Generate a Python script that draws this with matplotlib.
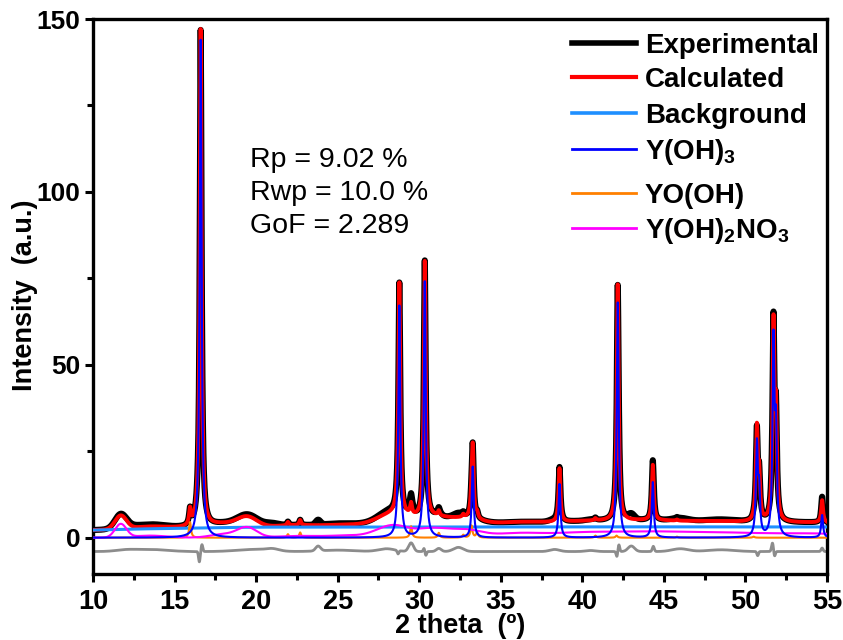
import numpy as np
import matplotlib
matplotlib.use("Agg")
import matplotlib.pyplot as plt
from matplotlib.ticker import MultipleLocator
from matplotlib.lines import Line2D

plt.rcParams['font.family'] = ['Liberation Sans', 'DejaVu Sans']
plt.rcParams['mathtext.fontset'] = 'custom'
plt.rcParams['mathtext.rm'] = 'Liberation Sans:bold'
plt.rcParams['mathtext.bf'] = 'Liberation Sans:bold'
plt.rcParams['mathtext.it'] = 'Liberation Sans:bold'

# ---------------- data ----------------
two_theta_range = (10.0, 55.0)
intensity_range = (-10.5, 150.0)

# background points
bg_pos = [10.0, 12.5, 15.0, 17.5, 20.0, 30.0, 40.0, 55.0]
bg_val = [2.2, 2.5, 2.7, 2.9, 3.05, 3.1, 3.15, 3.1]

# Y(OH)3 reflections
yoh3_pos = [16.60, 28.78, 30.34, 33.28, 38.60, 42.17, 44.32, 50.70, 50.84, 51.72, 51.87, 54.70]
yoh3_hgt = [144.0, 67.0, 74.0, 20.5, 15.5, 68.0, 16.0, 26.0, 12.0, 55.0, 28.0, 6.5]
yoh3_hw = [0.07, 0.07, 0.07, 0.07, 0.07, 0.07, 0.07, 0.07, 0.07, 0.07, 0.07, 0.07]

# YO(OH) reflections
yooh_pos = [15.95, 21.95, 22.70, 29.50, 31.20, 32.70, 33.20, 33.55, 40.80, 42.10, 45.80, 50.50]
yooh_hgt = [4.5, 1.0, 1.5, 3.3, 1.4, 0.8, 3.5, 1.5, 0.6, 0.6, 0.3, 0.3]
yooh_hw = [0.07, 0.07, 0.07, 0.07, 0.07, 0.07, 0.07, 0.07, 0.07, 0.07, 0.07, 0.07]

# Y(OH)2NO3 broad reflections
yno3_pos = [11.70, 13.5, 18.0, 19.45, 22.5, 25.5, 28.4, 30.8, 32.8, 36.0, 40.0, 44.0, 48.0, 52.0, 55.0]
yno3_hgt = [3.9, 0.6, 1.0, 2.9, 0.5, 0.6, 3.6, 2.4, 2.2, 1.2, 1.4, 1.5, 1.3, 1.0, 0.8]
yno3_sd = [0.35, 1.0, 0.8, 0.6, 1.2, 1.2, 1.0, 0.9, 1.0, 1.5, 2.0, 2.0, 2.0, 2.0, 1.5]

# misfit between experiment and model (experimental = calculated + misfit)
mis_pos = [12.0, 13.5, 16.52, 16.68, 19.8, 21.0, 23.8, 25.0, 28.0, 28.70, 29.50, 30.30, 30.40,
           31.20, 32.40, 38.30, 40.50, 42.12, 42.24, 43.00, 44.35, 46.0, 48.5, 50.75, 51.66, 51.78, 54.70]
mis_amp = [0.4, 0.6, -3.0, 2.0, 0.6, 0.6, 1.4, 0.4, 0.8, -1.0, 2.5, 1.0, -1.2,
           0.9, 1.2, 0.6, 0.3, -1.5, 2.0, 1.6, 1.5, 0.8, 0.5, -1.2, 2.5, -1.5, 1.0]
mis_w = [0.6, 1.0, 0.05, 0.05, 1.0, 0.4, 0.15, 1.0, 0.5, 0.05, 0.15, 0.05, 0.05,
         0.15, 0.3, 0.3, 0.3, 0.05, 0.05, 0.2, 0.06, 0.5, 0.8, 0.05, 0.06, 0.05, 0.06]
diff_offset = -4.0

# stats text
stats_lines = ["Rp = 9.02 %", "Rwp = 10.0 %", "GoF = 2.289"]
legend_labels = ["Experimental", "Calculated", "Background",
                 r"Y(OH)$_\mathbf{3}$", "YO(OH)", r"Y(OH)$_\mathbf{2}$NO$_\mathbf{3}$"]

# ---------------- build profiles ----------------
x = np.linspace(two_theta_range[0], two_theta_range[1], 4501)

def lorentz_sum(pos, hgt, hw):
    y = np.zeros_like(x)
    for p, h, w in zip(pos, hgt, hw):
        y += h / (1.0 + ((x - p) / w) ** 2)
    return y

def gauss_sum(pos, hgt, sd):
    y = np.zeros_like(x)
    for p, h, s in zip(pos, hgt, sd):
        y += h * np.exp(-0.5 * ((x - p) / s) ** 2)
    return y

bg = np.interp(x, bg_pos, bg_val)
yoh3 = lorentz_sum(yoh3_pos, yoh3_hgt, yoh3_hw)
yooh = lorentz_sum(yooh_pos, yooh_hgt, yooh_hw)
yno3 = gauss_sum(yno3_pos, yno3_hgt, yno3_sd)
calc = bg + yoh3 + yooh + yno3
misfit = gauss_sum(mis_pos, mis_amp, mis_w)
exper = calc + misfit
diff = exper - calc + diff_offset

# ---------------- plot ----------------
W, H = 843, 640
fig = plt.figure(figsize=(W / 100, H / 100), dpi=100)
L, R, T, B = 93, 827, 19, 574
ax = fig.add_axes([L / W, (H - B) / H, (R - L) / W, (B - T) / H])

colors = ['black', '#FF0000', '#1E8FFF', '#0000FF', '#FF8000', '#FF00FF']
widths = [4.4, 2.8, 2.2, 1.5, 1.5, 1.5]
series = [exper, calc, bg, yoh3, yooh, yno3]
zorders = [2, 3, 4, 5, 4, 4]
for s, c, lw, z, lab in zip(series, colors, widths, zorders, legend_labels):
    ax.plot(x, s, color=c, lw=lw, zorder=z, label=lab)
ax.plot(x, diff, color='#8C8C8C', lw=2.0, zorder=2)

ax.set_xlim(*two_theta_range)
ax.set_ylim(*intensity_range)

ax.xaxis.set_major_locator(MultipleLocator(5))
ax.xaxis.set_minor_locator(MultipleLocator(2.5))
ax.yaxis.set_major_locator(MultipleLocator(50))
ax.yaxis.set_minor_locator(MultipleLocator(25))
ax.tick_params(which='both', direction='out', width=2.2, top=False, right=False)
ax.tick_params(which='major', length=6)
ax.tick_params(which='minor', length=4.5)
ax.tick_params(axis='x', labelsize=19.5, pad=5)
ax.tick_params(axis='y', labelsize=19, pad=3)
for lab in ax.get_xticklabels() + ax.get_yticklabels():
    lab.set_fontweight('bold')
for sp in ax.spines.values():
    sp.set_linewidth(2.4)

fig.text(460 / W, 1 - 633 / H, "2 theta  (º)", fontsize=19.5, fontweight='bold',
         ha='center', va='baseline')
fig.text(25 / W, 1 - 295 / H, "Intensity  (a.u.)", fontsize=19.5, fontweight='bold',
         ha='center', va='center', rotation=90)

for i, line in enumerate(stats_lines):
    fig.text(250 / W, 1 - (160 + 33 * i) / H, line, fontsize=20.5, ha='left', va='center')

# legend drawn entry by entry (rows as in the reference)
leg_rows = [43, 77, 113, 149, 193, 228]
leg_lw = [4.0, 3.0, 2.6, 2.0, 2.0, 2.0]
for yrow, c, lw, lab in zip(leg_rows, colors, leg_lw, legend_labels):
    fy = 1 - yrow / H
    fig.add_artist(Line2D([572 / W, 636 / W], [fy, fy], color=c, lw=lw,
                          transform=fig.transFigure))
    fig.text(645 / W, 1 - (yrow + 10) / H, lab, fontsize=20, fontweight='bold',
             ha='left', va='baseline')

fig.savefig("out.png", dpi=100)
